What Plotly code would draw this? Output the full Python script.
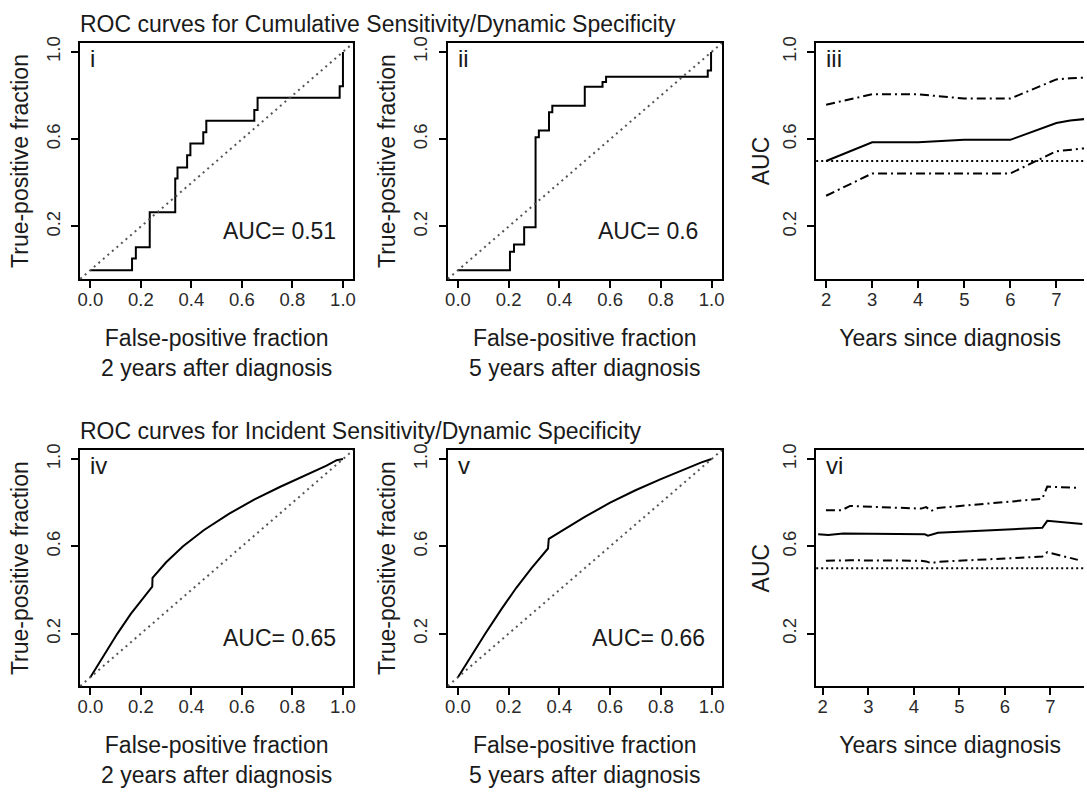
import plotly.graph_objects as go

W, H = 1087, 792

# ---------------- data ----------------
# Panel i: cumulative sensitivity / dynamic specificity, 2 years (step ROC)
roc_i_fpr = [0.0, 0.165, 0.18, 0.235, 0.336, 0.345, 0.383, 0.396, 0.447, 0.459, 0.649, 0.662, 0.987, 1.0]
roc_i_tpr = [0.0, 0.053, 0.105, 0.265, 0.42, 0.47, 0.526, 0.58, 0.632, 0.684, 0.734, 0.79, 0.843, 1.0]
# Panel ii: 5 years
roc_ii_fpr = [0.0, 0.205, 0.221, 0.261, 0.306, 0.319, 0.359, 0.372, 0.5, 0.57, 0.584, 0.985, 0.998]
roc_ii_tpr = [0.0, 0.084, 0.117, 0.197, 0.609, 0.64, 0.723, 0.753, 0.84, 0.862, 0.886, 0.915, 1.0]
# Panel iv: incident sensitivity / dynamic specificity, 2 years
roc_iv_fpr = [0.0, 0.05, 0.107, 0.16, 0.21, 0.245, 0.246, 0.3, 0.367, 0.45, 0.55, 0.65, 0.75, 0.85, 0.935, 0.975, 1.0]
roc_iv_tpr = [0.0, 0.094, 0.2, 0.29, 0.365, 0.415, 0.455, 0.527, 0.6, 0.675, 0.75, 0.815, 0.872, 0.925, 0.97, 0.995, 1.0]
# Panel v: 5 years
roc_v_fpr = [0.0, 0.05, 0.108, 0.17, 0.23, 0.29, 0.33, 0.355, 0.358, 0.4, 0.45, 0.5, 0.6, 0.7, 0.8, 0.9, 0.96, 1.0]
roc_v_tpr = [0.0, 0.094, 0.2, 0.31, 0.41, 0.5, 0.556, 0.59, 0.634, 0.665, 0.7, 0.735, 0.8, 0.857, 0.908, 0.955, 0.985, 1.0]

# Panel iii: AUC over time (cumulative)
years_iii = [2, 3, 4, 5, 6, 7, 7.3, 7.7]
auc_iii = [0.5, 0.586, 0.586, 0.597, 0.597, 0.674, 0.686, 0.694]
upper_iii = [0.758, 0.806, 0.806, 0.786, 0.786, 0.874, 0.879, 0.883]
lower_iii = [0.341, 0.443, 0.443, 0.443, 0.443, 0.545, 0.553, 0.56]

# Panel vi: AUC over time (incident)
years_vi = [1.9, 2.12, 2.45, 4.24, 4.31, 4.53, 6.82, 6.93, 7.7]
auc_vi = [0.655, 0.652, 0.659, 0.655, 0.649, 0.662, 0.685, 0.717, 0.702]
years_vi_ci = [2.07, 2.41, 2.6, 4.16, 4.27, 4.38, 4.53, 6.82, 6.93, 7.6]
upper_vi = [0.765, 0.765, 0.785, 0.773, 0.78, 0.762, 0.776, 0.818, 0.874, 0.868]
lower_vi = [0.534, 0.537, 0.536, 0.534, 0.531, 0.523, 0.529, 0.553, 0.573, 0.538]

auc_labels = {"i": "AUC= 0.51", "ii": "AUC= 0.6", "iv": "AUC= 0.65", "v": "AUC= 0.66"}
title_top = "ROC curves for Cumulative Sensitivity/Dynamic Specificity"
title_bottom = "ROC curves for Incident Sensitivity/Dynamic Specificity"
roc_ticks = [0.0, 0.2, 0.4, 0.6, 0.8, 1.0]
y_ticks = [0.2, 0.6, 1.0]
year_ticks = [2, 3, 4, 5, 6, 7]

# ---------------- layout helpers ----------------
FONT = "Liberation Sans, Arial, sans-serif"
TXT = "#1a1a1a"
FS = 23


def px_x(a, b):
    return [a / W, min(b / W, 1.0)]


def px_y(top, bottom):
    return [1 - bottom / H, 1 - top / H]


panels = {
    "i": (px_x(77.7, 352.0), px_y(36.5, 274.3)),
    "ii": (px_x(447.3, 722.7), px_y(36.5, 274.3)),
    "iii": (px_x(817.7, 1087.0), px_y(36.5, 274.3)),
    "iv": (px_x(77.7, 352.0), px_y(447.3, 685.0)),
    "v": (px_x(447.3, 722.7), px_y(447.3, 685.0)),
    "vi": (px_x(817.7, 1087.0), px_y(447.3, 685.0)),
}
order = ["i", "ii", "iii", "iv", "v", "vi"]

fig = go.Figure()
layout = dict(
    width=W, height=H, margin=dict(l=0, r=0, t=0, b=0),
    paper_bgcolor="white", plot_bgcolor="white", showlegend=False,
    font=dict(family=FONT, color=TXT),
)

for k, name in enumerate(order):
    idx = "" if k == 0 else str(k + 1)
    xd, yd = panels[name]
    is_roc = name in ("i", "ii", "iv", "v")
    if is_roc:
        xrange = [-0.04, 1.04]
        xt = dict(tickvals=roc_ticks, ticktext=[f"{v:.1f}" for v in roc_ticks])
        yrs = "2" if name in ("i", "iv") else "5"
        xtitle = f"False-positive fraction<br>{yrs} years after diagnosis"
        ytitle = "True-positive fraction"
        ystand = 8
    else:
        xrange = [1.784, 7.6] if name == "iii" else [1.856, 7.736]
        xt = dict(tickvals=year_ticks, ticktext=[str(v) for v in year_ticks])
        xtitle = "Years since diagnosis"
        ytitle = "AUC"
        ystand = 3
    layout["xaxis" + idx] = dict(
        domain=xd, range=xrange, anchor="y" + idx, showgrid=False, zeroline=False,
        showline=True, linecolor="black", linewidth=2, mirror=True,
        ticks="outside", ticklen=7, tickwidth=1.5, tickcolor="black",
        tickfont=dict(size=18.5, color="#2a2a2a"), ticklabelstandoff=-4,
        title=dict(text=xtitle, font=dict(size=FS, color=TXT), standoff=21),
        fixedrange=True, **xt,
    )
    layout["yaxis" + idx] = dict(
        domain=yd, range=[-0.04, 1.04], anchor="x" + idx, showgrid=False, zeroline=False,
        showline=True, linecolor="black", linewidth=2, mirror=is_roc,
        ticks="outside", ticklen=7, tickwidth=1.5, tickcolor="black",
        tickvals=y_ticks, ticktext=[f"{v:.1f}" for v in y_ticks], tickangle=-90,
        tickfont=dict(size=18.5, color="#2a2a2a"), ticklabelstandoff=4,
        title=dict(text=ytitle, font=dict(size=FS, color=TXT), standoff=ystand),
        fixedrange=True,
    )

fig.update_layout(**layout)


def ax(name):
    k = order.index(name)
    idx = "" if k == 0 else str(k + 1)
    return "x" + idx, "y" + idx


solid = dict(color="black", width=2)
dashdot = dict(color="black", width=2, dash="9px,4px,2px,4px")

# ROC curves
for name, fx, fy, shape in [
    ("i", roc_i_fpr, roc_i_tpr, "hv"),
    ("ii", roc_ii_fpr, roc_ii_tpr, "hv"),
    ("iv", roc_iv_fpr, roc_iv_tpr, "linear"),
    ("v", roc_v_fpr, roc_v_tpr, "linear"),
]:
    xa, ya = ax(name)
    fig.add_trace(go.Scatter(x=fx, y=fy, mode="lines", line=dict(solid, shape=shape),
                             xaxis=xa, yaxis=ya, hoverinfo="skip"))
    # chance diagonal across the whole plot region
    fig.add_shape(type="line", xref=xa + " domain", yref=ya + " domain",
                  x0=0, y0=0, x1=1, y1=1, line=dict(color="#555555", width=2, dash="2px,4px"))
    fig.add_annotation(x=0.75, y=0.18, xref=xa, yref=ya, text=auc_labels[name],
                       showarrow=False, font=dict(size=FS, color=TXT), xanchor="center", yanchor="middle")

# AUC over time
for name, yrs, auc, yrs_ci, up, lo in [
    ("iii", years_iii, auc_iii, years_iii, upper_iii, lower_iii),
    ("vi", years_vi, auc_vi, years_vi_ci, upper_vi, lower_vi),
]:
    xa, ya = ax(name)
    fig.add_trace(go.Scatter(x=yrs, y=auc, mode="lines", line=solid, xaxis=xa, yaxis=ya, hoverinfo="skip"))
    fig.add_trace(go.Scatter(x=yrs_ci, y=up, mode="lines", line=dashdot, xaxis=xa, yaxis=ya, hoverinfo="skip"))
    fig.add_trace(go.Scatter(x=yrs_ci, y=lo, mode="lines", line=dashdot, xaxis=xa, yaxis=ya, hoverinfo="skip"))
    fig.add_shape(type="line", xref=xa + " domain", yref=ya, x0=0, x1=1, y0=0.5, y1=0.5,
                  line=dict(color="black", width=2, dash="2px,3px"))

# panel numerals
for name in order:
    xa, ya = ax(name)
    fig.add_annotation(x=0.03, y=1.0, xref=xa + " domain", yref=ya + " domain", text=name,
                       showarrow=False, xanchor="left", yanchor="top",
                       font=dict(size=24, color=TXT))

# row titles
fig.add_annotation(x=75 / W, y=1 - 17.5 / H, xref="paper", yref="paper", text=title_top,
                   showarrow=False, xanchor="left", yanchor="middle", font=dict(size=FS, color=TXT))
fig.add_annotation(x=75 / W, y=1 - 427.5 / H, xref="paper", yref="paper", text=title_bottom,
                   showarrow=False, xanchor="left", yanchor="middle", font=dict(size=FS, color=TXT))

fig.write_html("out.html", config={"displayModeBar": False},
               post_script="document.body.style.margin='0px';")
